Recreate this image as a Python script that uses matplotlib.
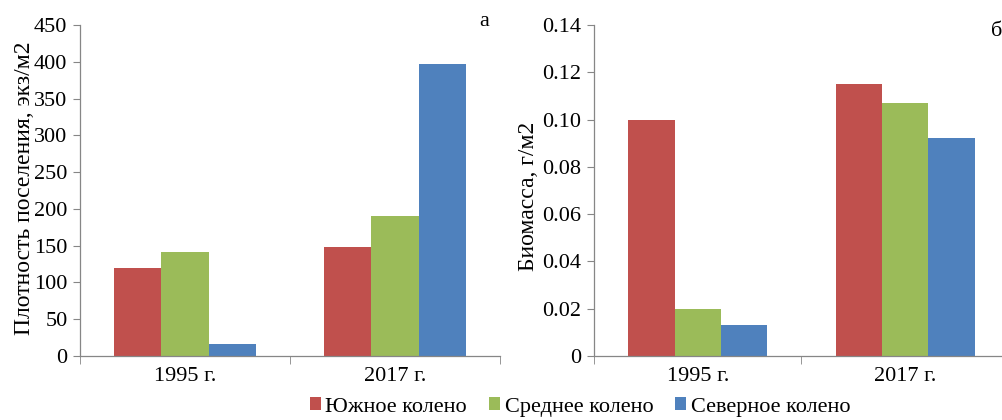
import numpy as np
import matplotlib
matplotlib.use("Agg")
import matplotlib.pyplot as plt
from matplotlib.patches import Patch

plt.rcParams['font.family'] = 'serif'
plt.rcParams['font.serif'] = ['Liberation Serif', 'Times New Roman', 'DejaVu Serif']

# data
years = ['1995 г.', '2017 г.']
series = ['Южное колено', 'Среднее колено', 'Северное колено']
colors = ['#C0504D', '#9BBB59', '#4F81BD']

density = [[119, 148],     # Южное
           [142, 190],     # Среднее
           [16, 397]]      # Северное
biomass = [[0.100, 0.115],
           [0.020, 0.107],
           [0.013, 0.092]]

W, H = 1003, 420
fig = plt.figure(figsize=(W / 100, H / 100), dpi=100)

ax1 = fig.add_axes([80 / W, (H - 356) / H, 420 / W, 331 / H])
ax2 = fig.add_axes([594 / W, (H - 356) / H, 415 / W, 331 / H])

bw = 0.224
x = np.arange(len(years))
grey = '#868686'
fs = 16


def draw(ax, vals, ymax, step, fmt):
    for i, (v, c) in enumerate(zip(vals, colors)):
        ax.bar(x + (i - 1) * bw, v, bw, color=c, linewidth=0)
    ax.set_xlim(-0.5, 1.5)
    ax.set_ylim(0, ymax)
    ticks = np.arange(0, ymax + step / 2, step)
    ax.set_yticks(ticks)
    ax.set_yticklabels([fmt(t) for t in ticks], fontsize=fs)
    ax.set_xticks(x)
    ax.set_xticklabels(years, fontsize=fs)
    ax.tick_params(axis='x', length=0, pad=8)
    ax.tick_params(axis='y', length=5, color=grey, pad=4)
    # category boundary ticks on the x axis
    ax.set_xticks([-0.5, 0.5, 1.5], minor=True)
    ax.tick_params(axis='x', which='minor', length=6, color=grey)
    for s in ['top', 'right']:
        ax.spines[s].set_visible(False)
    for s in ['left', 'bottom']:
        ax.spines[s].set_color(grey)
        ax.spines[s].set_linewidth(0.9)


draw(ax1, density, 450, 50, lambda t: f'{t:.0f}')
draw(ax2, biomass, 0.14, 0.02, lambda t: '0' if t == 0 else f'{t:.2f}')

fig.text(25 / W, 1 - 188 / H, 'Плотность поселения, экз/м2', rotation=90,
         ha='center', va='center', fontsize=17)
fig.text(528 / W, 1 - 196 / H, 'Биомасса, г/м2', rotation=90,
         ha='center', va='center', fontsize=17)

fig.text(484 / W, 1 - 22 / H, 'а', ha='center', va='center', fontsize=fs)
fig.text(997 / W, 1 - 32 / H, 'б', ha='center', va='center', fontsize=fs)

handles = [Patch(facecolor=c, edgecolor='none') for c in colors]
fig.legend(handles, series, loc='center', bbox_to_anchor=(580 / W, 1 - 407 / H),
           ncol=3, frameon=False, fontsize=fs, handlelength=0.5,
           handleheight=0.5, handletextpad=0.2, columnspacing=1.0)

fig.savefig('out.png', dpi=100)
